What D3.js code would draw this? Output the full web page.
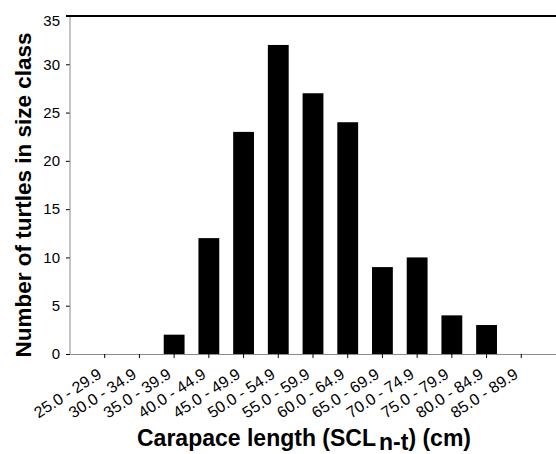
<!DOCTYPE html>
<html>
<head>
<meta charset="utf-8">
<script src="https://cdn.jsdelivr.net/npm/d3@7"></script>
<style>
  body { margin: 0; background: #fff; }
  svg text { font-family: "Liberation Sans", Arial, sans-serif; }
</style>
</head>
<body>
<div id="chart"></div>
<script>
// size classes (cm) and number of turtles in each
const sizeClasses = ["25.0 - 29.9", "30.0 - 34.9", "35.0 - 39.9", "40.0 - 44.9", "45.0 - 49.9",
    "50.0 - 54.9", "55.0 - 59.9", "60.0 - 64.9", "65.0 - 69.9", "70.0 - 74.9",
    "75.0 - 79.9", "80.0 - 84.9", "85.0 - 89.9"]
const turtleCounts = [0, 0, 2, 12, 23, 32, 27, 24, 9, 10, 4, 3, 0]
const yTicks = [0, 5, 10, 15, 20, 25, 30, 35]

const margin = { top: 16, right: 0, bottom: 100, left: 70 },
    width = 556 - margin.left - margin.right,
    height = 454 - margin.top - margin.bottom

const svg = d3.select("#chart").append("svg")
    .attr("width", 556)
    .attr("height", 454)

const g = svg.append("g")
    .attr("transform", "translate(" + margin.left + "," + margin.top + ")")

const x = d3.scaleBand()
    .domain(sizeClasses)
    .range([0, width])
    .paddingInner(0.4)
    .paddingOuter(0.7)
    .align(0.5)

const y = d3.scaleLinear()
    .domain([0, 35])
    .range([height, 0])

// bars
g.selectAll(".bar")
    .data(turtleCounts)
    .enter()
    .append("rect")
    .attr("class", "bar")
    .attr("x", (d, i) => x(sizeClasses[i]))
    .attr("y", d => y(d))
    .attr("width", x.bandwidth())
    .attr("height", d => height - y(d))
    .attr("fill", "#000")

// y axis (domain drawn separately in grey)
const yAxis = g.append("g")
    .call(d3.axisLeft(y).tickValues(yTicks).tickSize(4).tickPadding(6))
yAxis.select(".domain").remove()
yAxis.selectAll(".tick line").attr("stroke", "#000")
yAxis.selectAll(".tick text").attr("font-size", 15).attr("fill", "#000")
yAxis.selectAll(".tick").filter(d => d === 35).select("text").attr("dy", "0.6em")
g.append("line")
    .attr("x1", 0).attr("x2", 0)
    .attr("y1", 0).attr("y2", height)
    .attr("stroke", "#8a8a8a")

// x axis, slanted labels
const xAxis = g.append("g")
    .attr("transform", "translate(0," + height + ")")
    .call(d3.axisBottom(x).tickSize(4).tickSizeOuter(0))
xAxis.select(".domain").attr("stroke", "#8a8a8a")
xAxis.selectAll(".tick line").attr("stroke", "#000")
xAxis.selectAll(".tick text")
    .attr("font-size", 16)
    .attr("fill", "#000")
    .attr("text-anchor", "end")
    .attr("y", 0)
    .attr("dy", 0)
    .attr("transform", "translate(-2,23) rotate(-33)")

// top frame line
g.append("line")
    .attr("x1", -4).attr("x2", width)
    .attr("y1", 0).attr("y2", 0)
    .attr("stroke", "#000")
    .attr("stroke-width", 2)

// axis titles
svg.append("text")
    .attr("transform", "translate(31,195) rotate(-90)")
    .attr("text-anchor", "middle")
    .attr("font-size", 22.5)
    .attr("font-weight", "bold")
    .text("Number of turtles in size class")

const xTitle = svg.append("text")
    .attr("x", 304)
    .attr("y", 446)
    .attr("text-anchor", "middle")
    .attr("font-size", 23)
    .attr("font-weight", "bold")
xTitle.append("tspan").text("Carapace length (SCL")
xTitle.append("tspan").attr("dx", 3).attr("dy", 4).text("n-t")
xTitle.append("tspan").attr("dy", -4).text(") (cm)")
</script>
</body>
</html>
